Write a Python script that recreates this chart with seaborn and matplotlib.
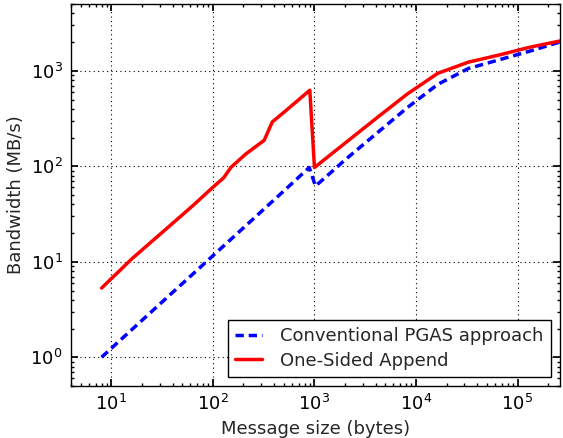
import matplotlib
matplotlib.use("Agg")
import matplotlib.pyplot as plt
import seaborn as sns
import pandas as pd
import numpy as np

# %% Data
# Conventional PGAS approach
pgas_size = [8, 16, 32, 64, 128, 256, 512, 888, 1024, 2048, 4096, 8192,
             16384, 32768, 65536, 131072, 262144]
pgas_bw = [1.0, 1.96, 3.84, 7.5, 14.7, 28.8, 56.5, 97, 62, 119, 221, 410,
           720, 1055, 1300, 1600, 2000]

# One-Sided Append
append_size = [8, 16, 32, 64, 96, 128, 150, 210, 320, 384, 512, 900, 1000,
               2048, 4096, 8192, 16384, 32768, 65536, 131072, 262144]
append_bw = [5.3, 10.8, 20.5, 39, 58, 76, 97, 134, 187, 291, 375, 625, 97,
             178, 320, 570, 940, 1230, 1460, 1760, 2050]

# %% Style: old-school matplotlib look
sns.set_theme(style="ticks")
plt.rcParams.update({
    "font.family": ["DejaVu Sans"],
    "font.size": 13,
    "axes.edgecolor": "black",
    "axes.linewidth": 1.0,
    "xtick.direction": "in",
    "ytick.direction": "in",
    "xtick.top": True,
    "ytick.right": True,
    "xtick.major.size": 5,
    "ytick.major.size": 5,
    "xtick.minor.size": 2.5,
    "ytick.minor.size": 2.5,
    "xtick.minor.visible": True,
    "ytick.minor.visible": True,
    "xtick.color": "black",
    "ytick.color": "black",
    "xtick.labelsize": 13,
    "ytick.labelsize": 13,
    "xtick.major.pad": 6,
    "ytick.major.pad": 6,
})

fig = plt.figure(figsize=(5.63, 4.38), dpi=100)
fig.subplots_adjust(left=71/563, right=560/563, bottom=1-386/438, top=1-4/438)
ax = fig.add_subplot(111)

df_pgas = pd.DataFrame({"size": pgas_size, "bw": pgas_bw})
df_app = pd.DataFrame({"size": append_size, "bw": append_bw})

sns.lineplot(data=df_pgas, x="size", y="bw", ax=ax, color="#0000ff",
             linewidth=2.5, sort=False,
             label="Conventional PGAS approach")
ax.lines[-1].set_dashes((2.4, 1.4))
sns.lineplot(data=df_app, x="size", y="bw", ax=ax, color="#ff0000",
             linewidth=2.5, sort=False, label="One-Sided Append")

ax.set_xscale("log")
ax.set_yscale("log")
ax.set_xlim(4, 262144)
ax.set_ylim(0.5, 5000)

ax.grid(True, which="major", linestyle=(0, (1, 3)), color="black",
        linewidth=0.8)
ax.set_xlabel("Message size (bytes)", fontsize=13)
ax.set_ylabel("Bandwidth (MB/s)", fontsize=13)

leg = ax.legend(loc="lower right", fontsize=13, fancybox=False,
                framealpha=1, edgecolor="black", handlelength=1.5,
                handletextpad=1.0, borderpad=0.4, labelspacing=0.35,
                borderaxespad=0.5)
leg.get_frame().set_linewidth(1.0)
# blue legend handle keeps the dash pattern
leg.get_lines()[0].set_dashes((2.4, 1.4))

plt.savefig("out.png", dpi=100)
